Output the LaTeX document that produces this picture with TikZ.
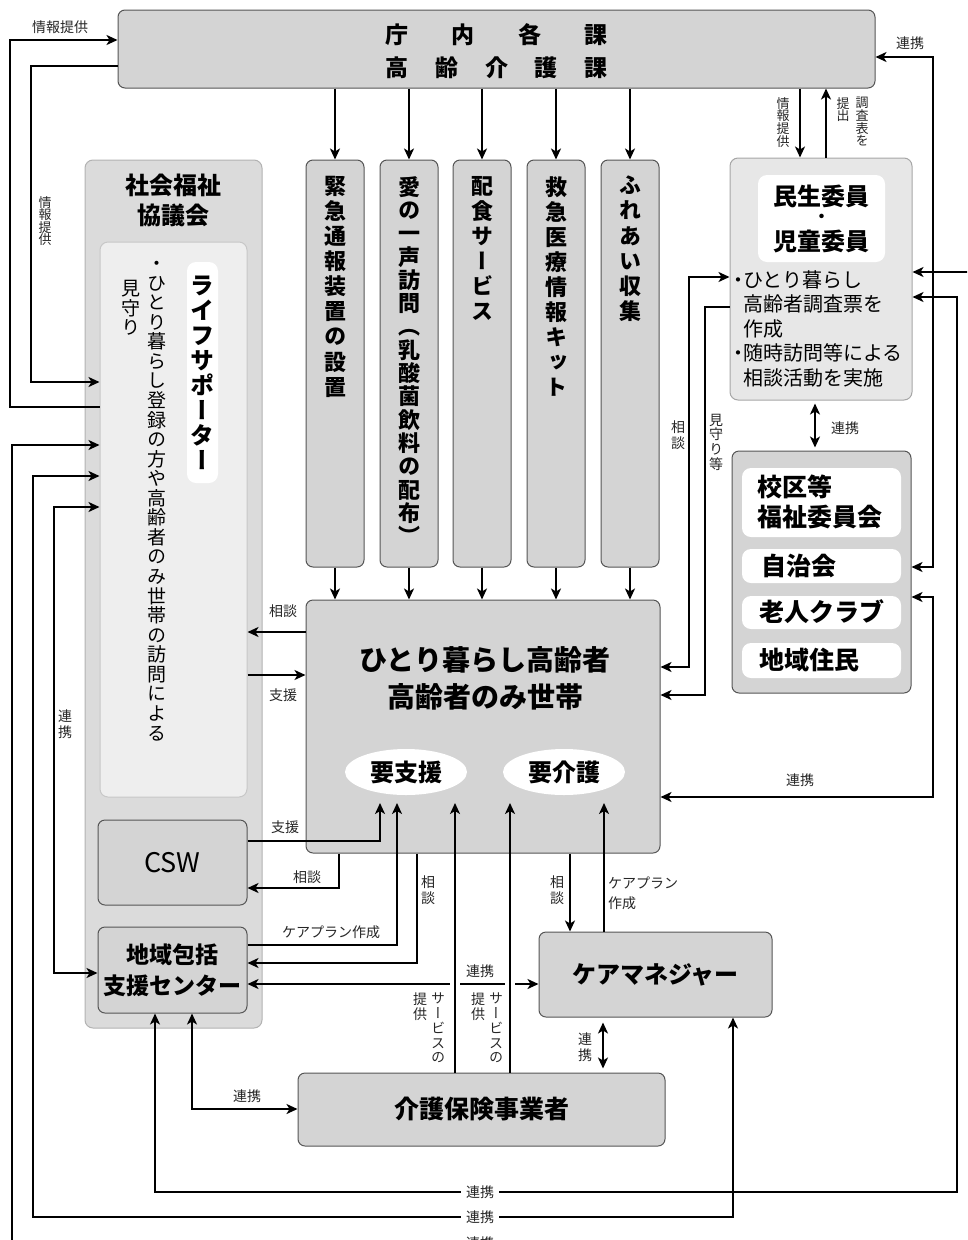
\documentclass[tikz,border=0pt]{standalone}
\usepackage{fontspec}
\setmainfont{Noto Sans CJK JP}
\newfontfamily\vf[RawFeature=+vert]{Noto Sans CJK JP}
\usetikzlibrary{arrows.meta,shapes.geometric}
\definecolor{boxg}{HTML}{D4D4D4}
\definecolor{outg}{HTML}{DBDBDB}
\definecolor{inng}{HTML}{EEEEEE}
\definecolor{msg}{HTML}{E7E7E7}
\definecolor{edgec}{HTML}{555555}
\makeatletter
\newcommand\vt[2][1.12]{\vbox{\baselineskip=#1em\lineskiplimit=-1000pt\lineskip=0pt\@tfor\vtc:=#2\do{\hbox to 1em{\hss\vtc\hss}}}}
\makeatother
\newcommand\fs[2]{\fontsize{#1}{#2}\selectfont}
\begin{document}
\begin{tikzpicture}[x=1pt,y=-1pt,
 box/.style={draw=edgec,fill=boxg,rounded corners=7pt,line width=1pt,inner sep=0pt},
 pill/.style={fill=white,rounded corners=9pt,draw=none,inner sep=0pt},
 lbl/.style={font=\fs{14}{20},text=black!85,inner sep=1pt},
 vlbl/.style={font=\vf\fs{14}{14},text=black!85,inner sep=0pt},
 tip/.tip={Stealth[length=11pt,width=10pt,inset=3pt]},
 con/.style={line width=1.8pt,-tip},
 con2/.style={line width=1.8pt,tip-tip},
 plain/.style={line width=1.8pt},
]
\useasboundingbox (0,0) rectangle (967,1240);
\clip (0,0) rectangle (967,1240);

% ---------- boxes ----------
\node[box,minimum width=757,minimum height=78] (top) at (496.5,49) {};
\node[font=\bfseries\fs{23}{28}] (toptxt1) at (496.5,35) {\hbox to 222pt{庁\hfil 内\hfil 各\hfil 課}};
\node[font=\bfseries\fs{23}{28}] (toptxt2) at (496.5,68) {\hbox to 222pt{高\hfil 齢\hfil 介\hfil 護\hfil 課}};

\node[draw=black!30,fill=outg,rounded corners=8pt,line width=1pt,minimum width=177,minimum height=868] (shakyo) at (173.5,594) {};
\node[font=\bfseries\fs{24}{30},align=center] (shakyot) at (173.5,200) {社会福祉\\協議会};
\node[draw=black!22,fill=inng,rounded corners=8pt,line width=1pt,minimum width=147,minimum height=555] (life) at (173.5,519.5) {};
\node[pill,minimum width=31,minimum height=221,font=\bfseries\vf\fs{24}{24}] (lifet) at (202.5,372.5) {\vt[1.04]{ライフサポーター}};
\node[anchor=north,font=\vf\fs{19}{19},inner sep=0pt] (lifed1) at (157,261) {\vt[1.03]{・ひとり暮らし登録の方や高齢者のみ世帯の訪問による}};
\node[anchor=north,font=\vf\fs{19}{19},inner sep=0pt] (lifed2) at (131,280) {\vt[1.03]{見守り}};

\node[box,minimum width=149,minimum height=85,font=\fs{27}{30}] (csw) at (172.5,862.5) {CSW};
\node[box,minimum width=149,minimum height=86,font=\bfseries\fs{23}{31},align=center] (chiiki) at (172.5,970) {地域包括\\支援センター};

\node[box,minimum width=58,minimum height=407] (v1) at (335,363.5) {};
\node[box,minimum width=58,minimum height=407] (v2) at (409,363.5) {};
\node[box,minimum width=58,minimum height=407] (v3) at (482,363.5) {};
\node[box,minimum width=58,minimum height=407] (v4) at (556,363.5) {};
\node[box,minimum width=58,minimum height=407] (v5) at (630,363.5) {};
\node[anchor=north,font=\bfseries\vf\fs{22}{22},inner sep=0pt] (v1t) at (335,176) {\vt[1.14]{緊急通報装置の設置}};
\node[anchor=north,font=\bfseries\vf\fs{22}{22},inner sep=0pt] (v2t) at (409,176) {\vt[1.06]{愛の一声訪問（乳酸菌飲料の配布）}};
\node[anchor=north,font=\bfseries\vf\fs{22}{22},inner sep=0pt] (v3t) at (482,176) {\vt[1.14]{配食サービス}};
\node[anchor=north,font=\bfseries\vf\fs{22}{22},inner sep=0pt] (v4t) at (556,176) {\vt[1.14]{救急医療情報キット}};
\node[anchor=north,font=\bfseries\vf\fs{22}{22},inner sep=0pt] (v5t) at (630,176) {\vt[1.14]{ふれあい収集}};

\node[box,minimum width=354,minimum height=253] (central) at (483,726.5) {};
\node[font=\bfseries\fs{28}{37},align=center] (centralt) at (485,678) {ひとり暮らし高齢者\\高齢者のみ世帯};
\node[ellipse,fill=white,minimum width=122,minimum height=46,inner sep=0pt,font=\bfseries\fs{24}{24}] (yoshien) at (406,772) {要支援};
\node[ellipse,fill=white,minimum width=122,minimum height=46,inner sep=0pt,font=\bfseries\fs{24}{24}] (yokaigo) at (564,772) {要介護};

\node[draw=black!35,fill=msg,rounded corners=8pt,line width=1pt,minimum width=182,minimum height=242] (minsei) at (821,279) {};
\node[pill,minimum width=127,minimum height=87] (minseiw) at (821.5,218.5) {};
\node[font=\bfseries\fs{24}{24},inner sep=0pt] (ms1) at (821.5,196) {民生委員};
\node[font=\bfseries\fs{16}{16},inner sep=0pt] (ms2) at (821.5,218) {・};
\node[font=\bfseries\fs{24}{24},inner sep=0pt] (ms3) at (821.5,241) {児童委員};
\node[anchor=north west,font=\fs{20}{24.5},align=left,inner sep=0pt] (msd) at (728,270) {\makebox[15pt][l]{・}ひとり暮らし\\\hspace*{15pt}高齢者調査票を\\\hspace*{15pt}作成\\\makebox[15pt][l]{・}随時訪問等による\\\hspace*{15pt}相談活動を実施};

\node[box,minimum width=179,minimum height=242] (kouku) at (821.5,572) {};
\node[pill,minimum width=159,minimum height=69] (p1) at (821.5,502.5) {};
\node[pill,minimum width=159,minimum height=34] (p2) at (821.5,566) {};
\node[pill,minimum width=159,minimum height=33] (p3) at (821.5,612.5) {};
\node[pill,minimum width=159,minimum height=35] (p4) at (821.5,660.5) {};
\node[anchor=west,font=\bfseries\fs{25}{30},align=left,inner sep=0pt] (p1t) at (757,502) {校区等\\福祉委員会};
\node[anchor=west,font=\bfseries\fs{25}{30},inner sep=0pt] (p2t) at (761,566) {自治会};
\node[anchor=west,font=\bfseries\fs{25}{30},inner sep=0pt] (p3t) at (759,612) {老人クラブ};
\node[anchor=west,font=\bfseries\fs{25}{30},inner sep=0pt] (p4t) at (759,660) {地域住民};

\node[box,minimum width=233,minimum height=85,font=\bfseries\fs{24}{24}] (caremgr) at (655.5,974.5) {ケアマネジャー};
\node[box,minimum width=367,minimum height=73,font=\bfseries\fs{25}{25}] (kaigo) at (481.5,1109.5) {介護保険事業者};

% ---------- connectors ----------
\foreach \v in {v1,v2,v3,v4,v5}{
  \draw[con] (top.south -| \v) -- (\v.north);
  \draw[con] (\v.south) -- (central.north -| \v);
}
\draw[con] (life.west |- 0,407) -| (10,40) -- (top.west |- 0,40);
\draw[con] (top.west |- 0,66) -| (31,382) -- (life.west |- 0,382);
\draw[con2] (life.west |- 0,445) -| (12,1243) -| (980,272) -- (minsei.east |- 0,272);
\draw[con2] (life.west |- 0,476) -| (33,1217) -| (caremgr.south -| 733,0);
\draw[con2] (life.west |- 0,507) -| (54,973) -- (chiiki.west |- 0,973);
\draw[con2] (minsei.east |- 0,297) -| (957,1192) -| (chiiki.south -| 155,0);
\draw[con2] (top.east |- 0,57) -| (933,567) -- (kouku.east |- 0,567);
\draw[con2] (kouku.east |- 0,597) -| (933,797) -- (central.east |- 0,797);
\draw[con2] (chiiki.south -| 192,0) |- (kaigo.west |- 0,1109);
\draw[con] (central.west |- 0,632) -- (life.east |- 0,632);
\draw[con] (life.east |- 0,675) -- (central.west |- 0,675);
\draw[con] (csw.east |- 0,841) -| (380,803);
\draw[con] (central.south -| 339,0) |- (csw.east |- 0,888);
\draw[con] (chiiki.east |- 0,945) -| (397,803);
\draw[con] (central.south -| 417,0) |- (chiiki.east |- 0,963);
\draw[plain,tip-] (chiiki.east |- 0,984) -- (450,984);
\draw[plain] (460,984) -- (505,984);
\draw[con] (515,984) -- (caremgr.west |- 0,984);
\draw[con] (kaigo.north -| 455,0) -- (455,803);
\draw[con] (kaigo.north -| 510,0) -- (510,803);
\draw[con] (central.south -| 570,0) -- (caremgr.north -| 570,0);
\draw[con] (caremgr.north -| 604,0) -- (604,803);
\draw[con2,shorten <=5pt,shorten >=4pt] (caremgr.south -| 603,0) -- (kaigo.north -| 603,0);
\draw[con] (top.south -| 800,0) -- (minsei.north -| 800,0);
\draw[con] (minsei.north -| 826,0) -- (top.south -| 826,0);
\draw[con2] (central.east |- 0,667) -| (689,277) -- (minsei.west |- 0,277);
\draw[con] (minsei.west |- 0,307) -| (705,695) -- (central.east |- 0,695);
\draw[con2,shorten <=3pt,shorten >=3pt] (minsei.south -| 815,0) -- (kouku.north -| 815,0);

% ---------- labels ----------
\node[lbl] (l1) at (60,27) {情報提供};
\node[vlbl,font=\vf\fs{13}{13}] (l2) at (45,221) {\vt[0.95]{情報提供}};
\node[lbl] (l3) at (910,43) {連携};
\node[vlbl,font=\vf\fs{13}{13},anchor=north] (l4) at (783,97) {\vt[0.98]{情報提供}};
\node[vlbl,font=\vf\fs{13}{13},anchor=north] (l5) at (862,97) {\vt[0.98]{調査表を}};
\node[vlbl,font=\vf\fs{13}{13},anchor=north] (l6) at (843,97) {\vt[0.98]{提出}};
\node[vlbl] (l7) at (678,435) {\vt{相談}};
\node[vlbl] (l8) at (716,442) {\vt[1.05]{見守り等}};
\node[lbl] (l9) at (845,428) {連携};
\node[lbl] (l10) at (800,780) {連携};
\node[lbl] (l11) at (283,611) {相談};
\node[lbl] (l12) at (283,695) {支援};
\node[vlbl] (l13) at (65,724) {\vt{連携}};
\node[lbl] (l14) at (285,827) {支援};
\node[lbl] (l15) at (307,877) {相談};
\node[lbl] (l16) at (331,932) {ケアプラン作成};
\node[vlbl] (l17) at (428,890) {\vt{相談}};
\node[lbl] (l18) at (480,971) {連携};
\node[vlbl,anchor=north] (l19a) at (438,993) {\vt[1.05]{サービスの}};
\node[vlbl,anchor=north] (l19b) at (420,993) {\vt[1.05]{提供}};
\node[vlbl,anchor=north] (l20a) at (496,993) {\vt[1.05]{サービスの}};
\node[vlbl,anchor=north] (l20b) at (478,993) {\vt[1.05]{提供}};
\node[vlbl] (l21) at (557,890) {\vt{相談}};
\node[lbl,align=left,anchor=west] (l22) at (607,893) {ケアプラン\\作成};
\node[vlbl] (l23) at (585,1047) {\vt{連携}};
\node[lbl] (l24) at (247,1096) {連携};
\node[lbl,fill=white,inner xsep=5pt] (b1) at (480,1192) {連携};
\node[lbl,fill=white,inner xsep=5pt] (b2) at (480,1217) {連携};
\node[lbl,fill=white,inner xsep=5pt] (b3) at (480,1243) {連携};
\end{tikzpicture}
\end{document}
